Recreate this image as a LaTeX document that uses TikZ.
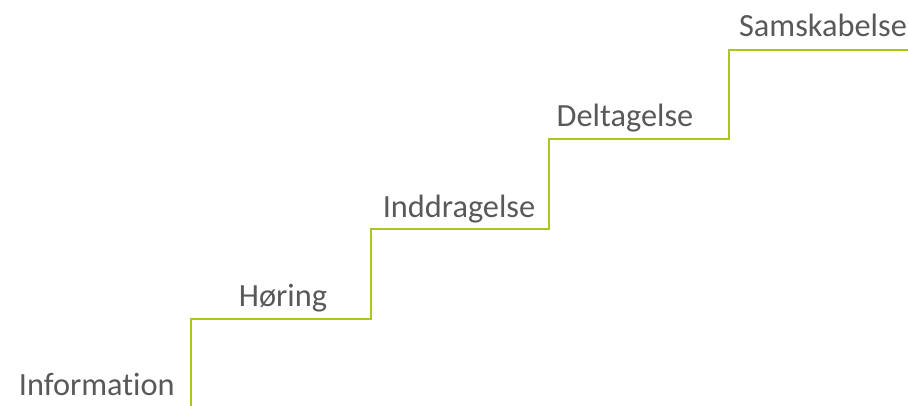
\documentclass[tikz,border=0pt]{standalone}
\usepackage{fontspec}
\setmainfont{Carlito}[Ligatures=NoCommon]
\definecolor{stairgreen}{RGB}{170,199,30}
\definecolor{labelgray}{RGB}{89,89,89}
\tikzset{
  stair/.style={draw=stairgreen, line width=1.5pt},
  level/.style={text=labelgray, anchor=base, inner sep=0pt,
    font=\fontsize{23}{28}\selectfont},
}
\begin{document}
\begin{tikzpicture}[x=0.025cm, y=-0.025cm]
\useasboundingbox (0,0) rectangle (908,406);
% corners of the steps
\coordinate (s0) at (191,406);
\coordinate (s1) at (191,319);
\coordinate (s2) at (371,319);
\coordinate (s3) at (371,229);
\coordinate (s4) at (549,229);
\coordinate (s5) at (549,139);
\coordinate (s6) at (729,139);
\coordinate (s7) at (729,50);
\coordinate (s8) at (908,50);
\draw[stair] (s0) -- (s1) -- (s2) -- (s3) -- (s4) -- (s5) -- (s6) -- (s7) -- (s8);
% one label per step
\node (information) [level, anchor=base east] at (175,395) {Information};
\node (horing) [level] at (283,307) {Høring};
\node (inddragelse) [level] at (459,218) {Inddragelse};
\node (deltagelse) [level] at (625,127) {Deltagelse};
\node (samskabelse) [level] at (823,37) {Samskabelse};
\end{tikzpicture}
\end{document}
